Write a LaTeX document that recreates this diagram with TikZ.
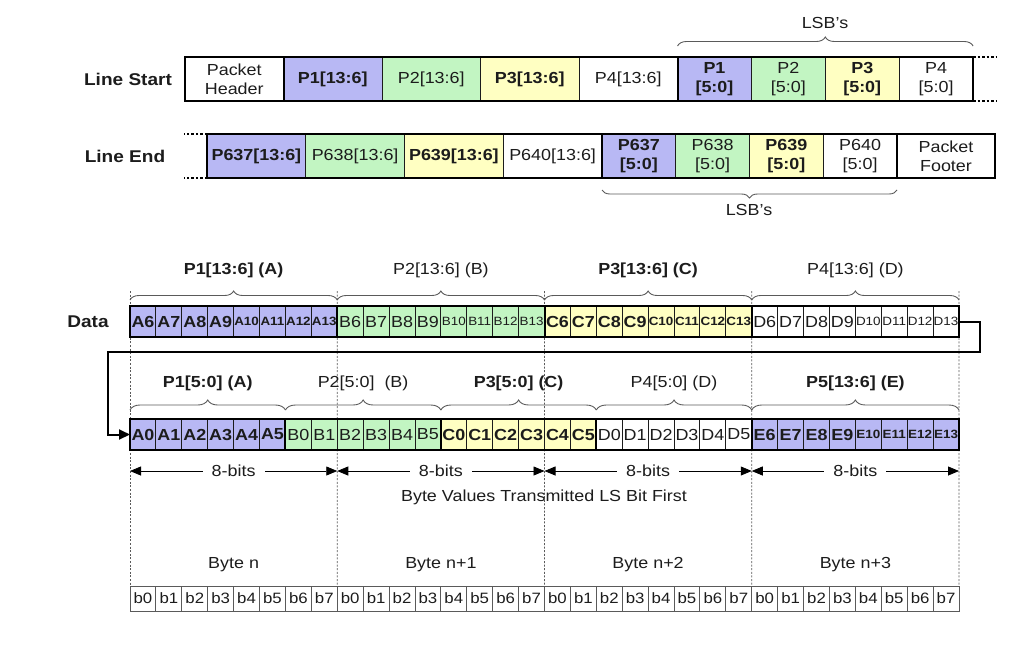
\documentclass[tikz,border=0pt]{standalone}
\usepackage{fontspec}
\setmainfont{Liberation Sans}[FakeStretch=1.12]
\usetikzlibrary{decorations.pathreplacing,arrows.meta}
\definecolor{cblue}{RGB}{184,184,244}
\definecolor{cgreen}{RGB}{194,245,194}
\definecolor{cyellow}{RGB}{255,255,194}
\definecolor{txt}{RGB}{28,28,28}
\definecolor{lgray}{RGB}{90,90,90}
\begin{document}
\begin{tikzpicture}[x=1pt,y=-1pt,
  every node/.style={text=txt, inner sep=0pt, outer sep=0pt},
  big/.style={font=\fontsize{16}{19}\selectfont},
  bigb/.style={font=\fontsize{16}{19}\selectfont\bfseries},
  lbl/.style={font=\fontsize{17}{19}\selectfont\bfseries},
  cell/.style={draw=txt, line width=0.9pt, anchor=north west, align=center, big},
  bcell/.style={cell, bigb},
  bitcell/.style={draw=lgray, line width=0.9pt, anchor=north west, align=center,
     minimum width=25.906, minimum height=25, font=\fontsize{15}{17}\selectfont},
  thickbox/.style={draw=black, line width=2pt},
  dots/.style={draw=black, line width=2pt, dash pattern=on 2.5pt off 2pt},
  vdash/.style={draw=lgray, line width=0.9pt, dash pattern=on 2pt off 1.6pt},
  brc/.style={draw=lgray, line width=0.9pt, decorate},
  arr/.style={draw=black, line width=0.8pt, {Triangle[length=11pt,width=9pt]}-{Triangle[length=11pt,width=9pt]}},
  conn/.style={draw=black, line width=2pt, -{Triangle[length=11pt,width=10pt]}},
]
\useasboundingbox (0,0) rectangle (1035,646);

% ---------------- Line Start ----------------
\node[lbl] (lstart) at (128,79) {Line Start};
\node[cell, minimum width=98.5, minimum height=44] (hdr) at (185,57) {Packet\\Header};
\node[bcell, fill=cblue, minimum width=98.5, minimum height=44] (lsA) at (283.5,57) {P1[13:6]};
\node[cell, fill=cgreen, minimum width=98.5, minimum height=44] (lsB) at (382,57) {P2[13:6]};
\node[bcell, fill=cyellow, minimum width=98.5, minimum height=44] (lsC) at (480.5,57) {P3[13:6]};
\node[cell, minimum width=98.5, minimum height=44] (lsD) at (579,57) {P4[13:6]};
\node[bcell, fill=cblue, minimum width=73.9, minimum height=44] (lsa) at (677.5,57) {P1\\{[5:0]}};
\node[cell, fill=cgreen, minimum width=73.9, minimum height=44] (lsb) at (751.4,57) {P2\\{[5:0]}};
\node[bcell, fill=cyellow, minimum width=73.9, minimum height=44] (lsc) at (825.3,57) {P3\\{[5:0]}};
\node[cell, minimum width=73.9, minimum height=44] (lsd) at (899.2,57) {P4\\{[5:0]}};
\draw[thickbox] (hdr.north west) rectangle (lsd.south east);
\draw[thickbox] (hdr.north east) -- (hdr.south east);
\draw[thickbox] (lsD.north east) -- (lsD.south east);
\coordinate (lsdT) at (996,57);
\coordinate (lsdB) at (996,101);
\draw[dots] (lsd.north east) -- (lsdT);
\draw[dots] (lsd.south east) -- (lsdB);
\draw[brc, decoration={brace, amplitude=9pt}] ([yshift=11pt]lsa.north west) -- ([yshift=11pt]lsd.north east);
\node[big] (lsbT) at (825,23) {LSB’s};

% ---------------- Line End ----------------
\node[lbl] (lend) at (125,156) {Line End};
\node[bcell, fill=cblue, minimum width=98.75, minimum height=44] (leA) at (207,134) {P637[13:6]};
\node[cell, fill=cgreen, minimum width=98.75, minimum height=44] (leB) at (305.75,134) {P638[13:6]};
\node[bcell, fill=cyellow, minimum width=98.75, minimum height=44] (leC) at (404.5,134) {P639[13:6]};
\node[cell, minimum width=98.75, minimum height=44] (leD) at (503.25,134) {P640[13:6]};
\node[bcell, fill=cblue, minimum width=73.75, minimum height=44] (lea) at (602,134) {P637\\{[5:0]}};
\node[cell, fill=cgreen, minimum width=73.75, minimum height=44] (leb) at (675.75,134) {P638\\{[5:0]}};
\node[bcell, fill=cyellow, minimum width=73.75, minimum height=44] (lec) at (749.5,134) {P639\\{[5:0]}};
\node[cell, minimum width=73.75, minimum height=44] (led) at (823.25,134) {P640\\{[5:0]}};
\node[cell, minimum width=98, minimum height=44] (ftr) at (897,134) {Packet\\Footer};
\draw[thickbox] (leA.north west) rectangle (ftr.south east);
\draw[thickbox] (leD.north east) -- (leD.south east);
\draw[thickbox] (led.north east) -- (led.south east);
\coordinate (ledT) at (184,134);
\coordinate (ledB) at (184,178);
\draw[dots] (leA.north west) -- (ledT);
\draw[dots] (leA.south west) -- (ledB);
\draw[brc, decoration={brace, amplitude=8pt, mirror}] ([yshift=-12pt]lea.south west) -- ([yshift=-12pt]led.south east);
\node[big] (lebT) at (749,210) {LSB’s};

% ---------------- Bit row (bottom) ----------------
\foreach \i in {0,...,31}{
  \pgfmathsetmacro\xx{130+\i*25.906}
  \pgfmathtruncatemacro\bb{mod(\i,8)}
  \node[bitcell] (b\i) at (\xx,586) {b\bb};
}

% dashed vertical guides
\foreach \i in {0,...,3}{
  \pgfmathsetmacro\xx{130+\i*207.25}
  \pgfmathtruncatemacro\j{\i*8}
  \coordinate (v\i) at (\xx,291);
  \draw[vdash] (v\i) -- (b\j.north west);
}
\coordinate (v4) at (959,291);
\draw[vdash] (v4) -- (b31.north east);

% ---------------- Data row ----------------
\node[lbl] (datalbl) at (88,322) {Data};
\foreach \L/\col/\isb [count=\g from 0] in {A/cblue/1,B/cgreen/0,C/cyellow/1,D/white/0}{
  \foreach \k in {6,...,13}{
    \pgfmathsetmacro\xx{130+(\g*8+\k-6)*25.906}
    \pgfmathtruncatemacro\idx{\g*8+\k-6}
    \node[cell, fill=\col, minimum width=25.906, minimum height=31] (d\idx) at (\xx,306)
      {\ifnum\isb=1 \bfseries\fi\ifnum\k>9 \fontsize{12}{13}\selectfont\fi\L\k};
  }
}
\draw[thickbox] (d0.north west) rectangle (d7.south east);
\draw[thickbox] (d8.north west) rectangle (d15.south east);
\draw[thickbox] (d16.north west) rectangle (d23.south east);
\draw[thickbox] (d24.north west) rectangle (d31.south east);

\draw[brc, decoration={brace, amplitude=9pt}] ([yshift=6pt]d0.north west) -- ([yshift=6pt]d7.north east);
\draw[brc, decoration={brace, amplitude=9pt}] ([yshift=6pt]d8.north west) -- ([yshift=6pt]d15.north east);
\draw[brc, decoration={brace, amplitude=9pt}] ([yshift=6pt]d16.north west) -- ([yshift=6pt]d23.north east);
\draw[brc, decoration={brace, amplitude=9pt}] ([yshift=6pt]d24.north west) -- ([yshift=6pt]d31.north east);
\node[bigb] (tA) at (233.6,270) {P1[13:6] (A)};
\node[big] (tB) at (440.9,270) {P2[13:6] (B)};
\node[bigb] (tC) at (648.1,270) {P3[13:6] (C)};
\node[big] (tD) at (855.4,270) {P4[13:6] (D)};

% ---------------- Second row ----------------
\foreach \L/\col/\isb/\lo/\hi/\off in {A/cblue/1/0/5/0, B/cgreen/0/0/5/6, C/cyellow/1/0/5/12, D/white/0/0/5/18, E/cblue/1/6/13/24}{
  \foreach \k in {\lo,...,\hi}{
    \pgfmathtruncatemacro\idx{\off+\k-\lo}
    \pgfmathsetmacro\xx{130+\idx*25.906}
    \node[cell, fill=\col, minimum width=25.906, minimum height=31] (r\idx) at (\xx,419)
      {\ifnum\isb=1 \bfseries\fi\ifnum\k>9 \fontsize{12}{13}\selectfont\fi\L\k};
  }
}
\draw[thickbox] (r0.north west) rectangle (r5.south east);
\draw[thickbox] (r6.north west) rectangle (r11.south east);
\draw[thickbox] (r12.north west) rectangle (r17.south east);
\draw[thickbox] (r18.north west) rectangle (r23.south east);
\draw[thickbox] (r24.north west) rectangle (r31.south east);

\draw[brc, decoration={brace, amplitude=10pt}] ([yshift=9pt]r0.north west) -- ([yshift=9pt]r5.north east);
\draw[brc, decoration={brace, amplitude=10pt}] ([yshift=9pt]r6.north west) -- ([yshift=9pt]r11.north east);
\draw[brc, decoration={brace, amplitude=10pt}] ([yshift=9pt]r12.north west) -- ([yshift=9pt]r17.north east);
\draw[brc, decoration={brace, amplitude=10pt}] ([yshift=9pt]r18.north west) -- ([yshift=9pt]r23.north east);
\draw[brc, decoration={brace, amplitude=10pt}] ([yshift=9pt]r24.north west) -- ([yshift=9pt]r31.north east);
\node[bigb] (sA) at (207.7,383) {P1[5:0] (A)};
\node[big] (sB) at (363.1,383) {P2[5:0]\ \ (B)};
\node[bigb] (sC) at (518.6,383) {P3[5:0] (C)};
\node[big] (sD) at (674.0,383) {P4[5:0] (D)};
\node[bigb] (sE) at (855.4,383) {P5[13:6] (E)};

% connector from Data row to second row
\coordinate (c1) at (980,352);
\coordinate (c2) at (108,352);
\draw[conn] (d31.east) -| (c1) -- (c2) |- (r0.west);

% ---------------- 8-bit arrows ----------------
\foreach \i in {0,...,4}{
  \pgfmathsetmacro\xx{130+\i*207.25}
  \coordinate (ar\i) at (\xx,471);
}
\foreach \i [evaluate=\i as \n using int(\i+1)] in {0,...,3}{
  \draw[arr] (ar\i) -- (ar\n) node[midway, fill=white, inner xsep=9pt, inner ysep=2pt, big] (eb\i) {8-bits};
}
\node[big] (bvt) at (544,497) {Byte Values Transmitted LS Bit First};

\node[big] (byn0) at (233.6,565) {Byte n};
\node[big] (byn1) at (440.9,565) {Byte n+1};
\node[big] (byn2) at (648.1,565) {Byte n+2};
\node[big] (byn3) at (855.4,565) {Byte n+3};
\end{tikzpicture}
\end{document}
